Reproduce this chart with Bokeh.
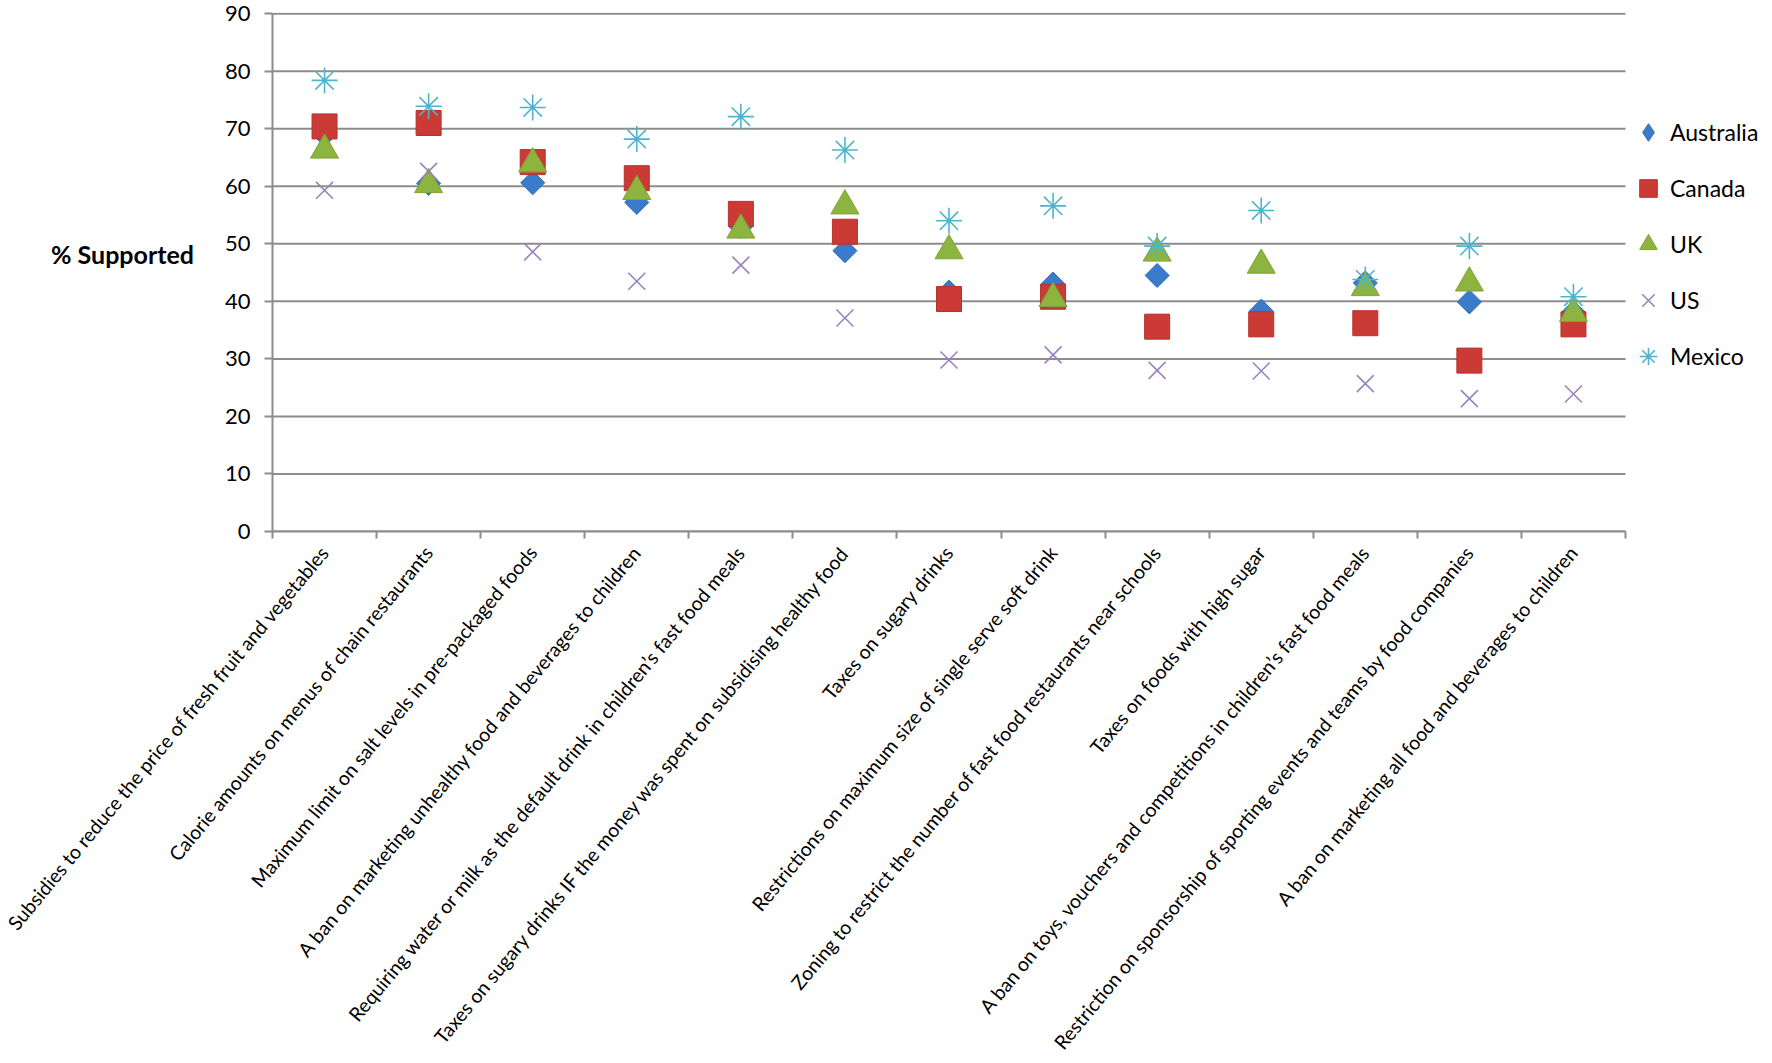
import numpy as np
from bokeh.plotting import figure
from bokeh.models import Range1d, FixedTicker, LinearAxis, Legend, LegendItem, Label
from bokeh.embed import file_html
from bokeh.resources import INLINE

categories = [
    "Subsidies to reduce the price of fresh fruit and vegetables",
    "Calorie amounts on menus of chain restaurants",
    "Maximum limit on salt levels in pre-packaged foods",
    "A ban on marketing unhealthy food and beverages to children",
    "Requiring water or milk as the default drink in children\u2019s fast food meals",
    "Taxes on sugary drinks IF the money was spent on subsidising healthy food",
    "Taxes on sugary drinks",
    "Restrictions on maximum size of single serve soft drink",
    "Zoning to restrict the number of fast food restaurants near schools",
    "Taxes on foods with high sugar",
    "A ban on toys, vouchers and competitions in children\u2019s fast food meals",
    "Restriction on sponsorship of sporting events and teams by food companies",
    "A ban on marketing all food and beverages to children",
]
australia = [69.0, 60.5, 60.6, 57.2, 53.0, 48.8, 41.6, 43.0, 44.5, 38.3, 43.2, 39.9, 38.1]
canada = [70.4, 71.0, 64.2, 61.4, 55.2, 52.1, 40.4, 40.8, 35.6, 36.0, 36.2, 29.7, 36.0]
uk = [66.3, 60.3, 63.9, 59.1, 52.4, 56.6, 48.8, 40.5, 48.4, 46.3, 42.4, 43.2, 37.9]
us = [59.3, 62.6, 48.6, 43.5, 46.3, 37.1, 29.8, 30.7, 28.0, 27.9, 25.7, 23.1, 23.9]
mexico = [78.4, 73.9, 73.7, 68.2, 72.1, 66.3, 54.0, 56.6, 49.6, 55.8, 43.8, 49.6, 40.8]
y_ticks = [0, 10, 20, 30, 40, 50, 60, 70, 80, 90]

FONT = "Lato"
GRID = "#8c8c8c"

n = len(categories)
x = np.arange(n) + 0.5

W, H = 1772, 1063
LEFT, TOP, BOTTOM = 272, 12, 531
PLOT_RIGHT = 1625          # right end of the category area (px)
frame_w = W - LEFT
x_end = n * frame_w / (PLOT_RIGHT - LEFT)   # extra room on the right for the legend

p = figure(width=W, height=H, output_backend="svg", toolbar_location=None,
           x_range=Range1d(0, x_end), y_range=Range1d(0, 90.2),
           min_border_left=LEFT, min_border_right=0, min_border_top=TOP,
           min_border_bottom=BOTTOM)
p.outline_line_color = None
p.background_fill_color = "white"
p.border_fill_color = "white"

# grid lines limited to the category area
p.xgrid.visible = False
p.ygrid.visible = False
p.segment(x0=0, x1=n, y0=y_ticks, y1=y_ticks, line_color=GRID, line_width=2)

# y axis
yax = p.yaxis[0]
yax.ticker = FixedTicker(ticks=y_ticks)
yax.bounds = (0, 90)
yax.axis_line_color = GRID
yax.axis_line_width = 2
yax.major_tick_line_color = GRID
yax.major_tick_line_width = 2
yax.major_tick_out = 8
yax.major_tick_in = 0
yax.minor_tick_line_color = None
yax.major_label_text_font = FONT
yax.major_label_text_font_size = "22px"
yax.major_label_text_color = "black"
yax.major_label_standoff = 14

label_text = "% Supported"
if "axis_label_orientation" in yax.properties():
    yax.axis_label = label_text + "\n"
    yax.axis_label_orientation = "horizontal"
    yax.axis_label_text_font = FONT
    yax.axis_label_text_font_style = "bold"
    yax.axis_label_text_font_size = "25px"
    yax.axis_label_text_color = "black"
    yax.axis_label_standoff = 28
else:
    p.add_layout(Label(x=-80, y=285, x_units="screen", y_units="screen", text=label_text,
                       text_align="right", text_baseline="middle", text_font=FONT,
                       text_font_style="bold", text_font_size="25px"))

# x axis with ticks at category boundaries
xax = p.xaxis[0]
xax.ticker = FixedTicker(ticks=list(range(n + 1)))
xax.bounds = (0, n)
xax.axis_line_color = GRID
xax.axis_line_width = 2
xax.major_tick_line_color = GRID
xax.major_tick_line_width = 2
xax.major_tick_out = 7
xax.major_tick_in = 0
xax.minor_tick_line_color = None
xax.major_label_text_font_size = "1px"
xax.major_label_text_alpha = 0
xax.major_label_standoff = 0

# x axis carrying category labels
lab_ax = LinearAxis(ticker=FixedTicker(ticks=[float(v) for v in x]),
                    major_label_overrides={float(v): c for v, c in zip(x, categories)},
                    major_label_orientation=0.88,
                    major_tick_out=0, major_tick_in=0,
                    minor_tick_line_color=None, major_tick_line_color=None,
                    axis_line_color=None,
                    major_label_text_font=FONT, major_label_text_font_size="19.5px",
                    major_label_text_color="black", major_label_standoff=10)
p.add_layout(lab_ax, "below")

AUS_FILL, AUS_LINE = "#3B7BCB", "#2F6DB8"
r_aus = p.scatter(x, australia, marker="square", angle=np.pi / 4, size=17,
                  fill_color=AUS_FILL, line_color=AUS_LINE)
# same data, diamond glyph used only for the legend swatch
r_aus_leg = p.scatter(x, australia, marker="diamond", size=24,
                      fill_color=AUS_FILL, line_color=AUS_LINE, visible=False)
r_can = p.scatter(x, canada, marker="square", size=25,
                  fill_color="#CC3A36", line_color="#B8302C")
r_uk = p.scatter(x, uk, marker="triangle", size=28,
                 fill_color="#8DB43E", line_color="#7FA335")
r_us = p.scatter(x, us, marker="x", size=24, line_color="#9A82BF", line_width=1.6)
r_mex = p.scatter(x, mexico, marker="asterisk", size=26, line_color="#4DB4CF", line_width=1.6)

legend = Legend(items=[
    LegendItem(label="Australia", renderers=[r_aus_leg]),
    LegendItem(label="Canada", renderers=[r_can]),
    LegendItem(label="UK", renderers=[r_uk]),
    LegendItem(label="US", renderers=[r_us]),
    LegendItem(label="Mexico", renderers=[r_mex]),
], location=(1354, 151), border_line_color=None, background_fill_alpha=0,
    padding=0, margin=0, spacing=8, glyph_width=44, glyph_height=48,
    label_standoff=0, label_text_font=FONT, label_text_font_size="23px",
    label_text_color="black", click_policy="none")
p.add_layout(legend)

open("out.html", "w").write(file_html(p, INLINE))
